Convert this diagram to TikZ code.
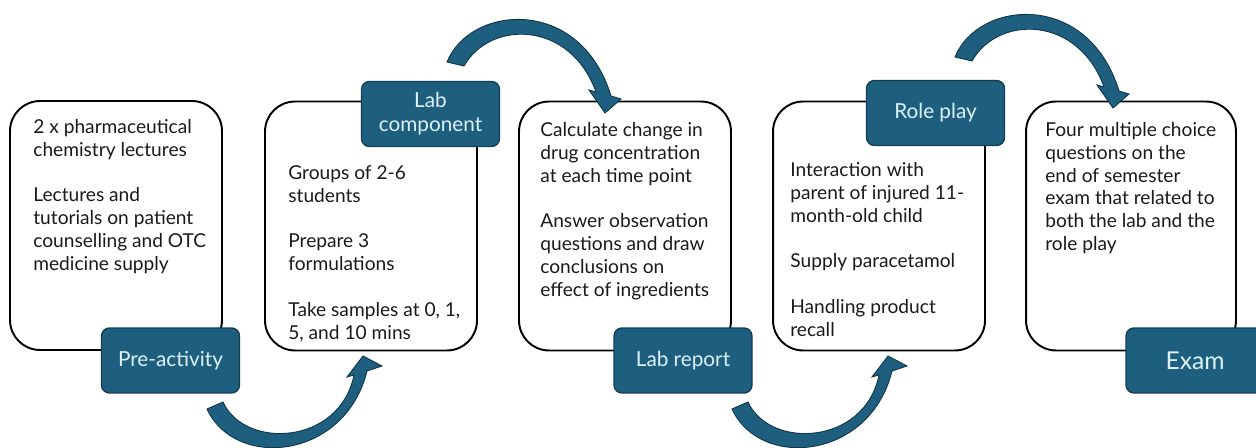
\documentclass[tikz,border=0pt]{standalone}
\usepackage{fontspec}
\setmainfont{Lato}
\definecolor{tagblue}{HTML}{1E5F80}
\definecolor{tagedge}{HTML}{123E55}
\definecolor{tagtext}{HTML}{DDF2F8}
\definecolor{arrowedge}{HTML}{0E3447}
\definecolor{bodyink}{HTML}{1A1A1A}
\begin{document}
\begin{tikzpicture}[x=0.02cm, y=-0.02cm,
  panel/.style={draw=black, line width=1.1pt, rounded corners=0.6cm,
    minimum width=4.24cm, minimum height=4.98cm, inner sep=0pt},
  tag/.style={fill=tagblue, draw=tagedge, line width=0.8pt, rounded corners=0.16cm,
    minimum width=2.76cm, minimum height=1.3cm, inner sep=0pt,
    text=tagtext, align=center, font=\fontsize{11.8}{13.6}\selectfont},
  bodytext/.style={anchor=north west, inner sep=0pt, align=left, text=bodyink,
    font=\fontsize{10.9}{13}\selectfont},
  flowarrow/.style={fill=tagblue, draw=arrowedge, line width=0.5pt, line join=miter}
]
\useasboundingbox (0,0) rectangle (1256,448);
\clip (0,0) rectangle (1256,448);

% activity panels
\node[panel] (p1) at (116,225.5) {};
\node[panel] (p2) at (371,226) {};
\node[panel] (p3) at (625,226) {};
\node[panel] (p4) at (879,226) {};
\node[panel, minimum width=4.2cm] (p5) at (1131,226) {};

% panel contents
\node[bodytext] (t1) at (33,119) {2 x pharmaceutical\\ chemistry lectures\\[13pt]
  Lectures and\\ tutorials on patient\\ counselling and OTC\\ medicine supply};
\node[bodytext] (t2) at (288,165) {Groups of 2-6\\ students\\[13pt]
  Prepare 3\\ formulations\\[13pt] Take samples at 0, 1,\\ 5, and 10 mins};
\node[bodytext] (t3) at (540,122) {Calculate change in\\ drug concentration\\ at each time point\\[13pt]
  Answer observation\\ questions and draw\\ conclusions on\\ effect of ingredients};
\node[bodytext] (t4) at (790,162) {Interaction with\\ parent of injured 11-\\ month-old child\\[13pt]
  Supply paracetamol\\[13pt] Handling product\\ recall};
\node[bodytext] (t5) at (1045,122) {Four multiple choice\\ questions on the\\ end of semester\\ exam that related to\\
  both the lab and the\\ role play};

% stage labels
\node[tag] (g1) at (170.5,360.5) {Pre-activity};
\node[tag] (g2) at (430.5,114) {Lab\\ component};
\node[tag] (g3) at (683,360.5) {Lab report};
\node[tag] (g4) at (935.5,113) {Role play};
\node[tag, font=\fontsize{14}{16}\selectfont] (g5) at (1195,360.5) {Exam};

% curved arrows below, bending upwards
\foreach \dx in {0,525}{
  \begin{scope}[shift={(\dx,0)}]
    \draw[flowarrow] (207,409) .. controls (235,470) and (345,460) .. (367,371)
      -- (382,366) -- (363,356) -- (347,377) -- (354,375)
      .. controls (340,445) and (245,450) .. (223,402) -- cycle;
  \end{scope}
}
% curved arrows above, bending downwards
\foreach \dx/\dy in {0/0,508/-5}{
  \begin{scope}[shift={(\dx,\dy)}]
    \draw[flowarrow] (447,62) .. controls (470,5) and (580,-5) .. (611,96)
      -- (621,99) -- (605,113) -- (589,90) -- (596,92)
      .. controls (570,20) and (490,20) .. (464,66) -- cycle;
  \end{scope}
}
\end{tikzpicture}
\end{document}
